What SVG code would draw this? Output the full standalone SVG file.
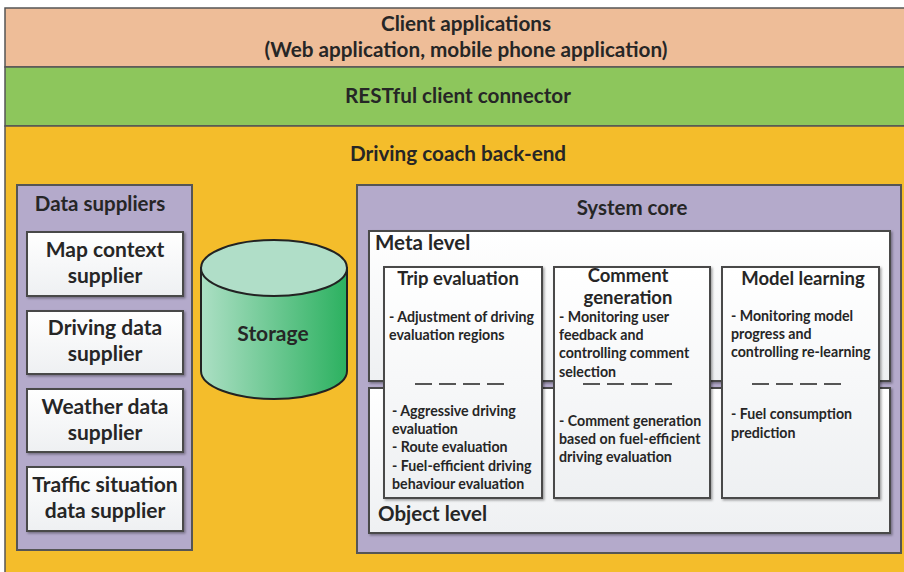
<svg xmlns="http://www.w3.org/2000/svg" width="904" height="572" viewBox="0 0 904 572">
<defs>
<linearGradient id="boxg" x1="0" y1="0" x2="0" y2="1">
<stop offset="0" stop-color="#ffffff"/>
<stop offset="1" stop-color="#eef0f2"/>
</linearGradient>
<linearGradient id="cylg" x1="0" y1="0" x2="1" y2="0">
<stop offset="0" stop-color="#acdfc4"/>
<stop offset="1" stop-color="#2cb160"/>
</linearGradient>
<filter id="sh" x="-5%" y="-5%" width="115%" height="115%">
<feDropShadow dx="1.5" dy="1.5" stdDeviation="0.8" flood-color="#000" flood-opacity="0.35"/>
</filter>
<style>
text{font-family:Lato,"Open Sans","Liberation Sans",sans-serif;font-weight:bold;fill:#262626}
.band{stroke:#555;stroke-width:1.5}
.purple{fill:#b4aacb;stroke:#555;stroke-width:2}
.box{fill:url(#boxg);stroke:#4a4a4a;stroke-width:2;filter:url(#sh)}
.top{font-size:20.7px;text-anchor:middle}
.t19{font-size:21px;text-anchor:middle}
.t18{font-size:20.5px}
.t16{font-size:18.5px;text-anchor:middle}
.b{font-size:14.2px}
.dash{stroke:#555;stroke-width:2;stroke-dasharray:17 7;fill:none}
</style>
</defs>
<g id="client-applications">
<rect class="band" x="5" y="8" width="902" height="59" fill="#eebd98"/>
<text class="top" x="466" y="31">Client applications</text>
<text class="top" x="466" y="57">(Web application, mobile phone application)</text>
</g>
<g id="restful-connector">
<rect class="band" x="5" y="67" width="902" height="59" fill="#8dc65c"/>
<text class="top" x="458" y="103">RESTful client connector</text>
</g>
<g id="backend">
<rect class="band" x="5" y="126" width="902" height="450" fill="#f4bd2b"/>
<text class="top" x="458" y="161">Driving coach back-end</text>
</g>
<g id="data-suppliers">
<rect class="purple" x="17" y="185" width="175" height="365"/>
<text class="t18" x="100" y="211" text-anchor="middle">Data suppliers</text>
</g>
<g id="map-context-supplier">
<rect class="box" x="27" y="232" width="156" height="64"/>
<text class="t19" x="105" y="257">Map context</text>
<text class="t19" x="105" y="283">supplier</text>
</g>
<g id="driving-data-supplier">
<rect class="box" x="27" y="311" width="156" height="63"/>
<text class="t19" x="105" y="335">Driving data</text>
<text class="t19" x="105" y="361">supplier</text>
</g>
<g id="weather-data-supplier">
<rect class="box" x="27" y="389" width="156" height="63"/>
<text class="t19" x="105" y="414">Weather data</text>
<text class="t19" x="105" y="440">supplier</text>
</g>
<g id="traffic-data-supplier">
<rect class="box" x="27" y="467" width="156" height="64"/>
<text class="t19" x="105" y="492">Traffic situation</text>
<text class="t19" x="105" y="518">data supplier</text>
</g>
<g id="storage">
<path d="M201,268 L201,371 A73,28 0 0 0 347,371 L347,268 Z" fill="url(#cylg)" stroke="#222" stroke-width="2"/>
<ellipse cx="274" cy="268" rx="73" ry="28" fill="#b0dec8" stroke="#222" stroke-width="2"/>
<text class="t19" x="273" y="341">Storage</text>
</g>
<g id="system-core">
<rect class="purple" x="357" y="185" width="544" height="368"/>
<text class="t18" x="632" y="215" text-anchor="middle">System core</text>
</g>
<g id="meta-level">
<rect class="box" x="369" y="231" width="521" height="150"/>
<text class="t18" x="375" y="250">Meta level</text>
</g>
<g id="object-level">
<rect class="box" x="369" y="388" width="521" height="145"/>
<text class="t18" x="378" y="521">Object level</text>
</g>
<g id="trip-evaluation">
<rect class="box" x="384" y="267" width="158" height="231"/>
<text class="t16" x="458" y="285">Trip evaluation</text>
<text class="b" x="389" y="322">- Adjustment of driving</text>
<text class="b" x="389" y="340">evaluation regions</text>
<line class="dash" x1="415" y1="384" x2="505" y2="384"/>
<text class="b" x="392" y="416">- Aggressive driving</text>
<text class="b" x="392" y="434">evaluation</text>
<text class="b" x="392" y="452">- Route evaluation</text>
<text class="b" x="392" y="471">- Fuel-efficient driving</text>
<text class="b" x="392" y="489">behaviour evaluation</text>
</g>
<g id="comment-generation">
<rect class="box" x="554" y="267" width="156" height="231"/>
<text class="t16" x="628" y="282">Comment</text>
<text class="t16" x="628" y="304">generation</text>
<text class="b" x="559" y="322">- Monitoring user</text>
<text class="b" x="559" y="340">feedback and</text>
<text class="b" x="559" y="358">controlling comment</text>
<text class="b" x="559" y="377">selection</text>
<line class="dash" x1="583" y1="384" x2="673" y2="384"/>
<text class="b" x="559" y="426">- Comment generation</text>
<text class="b" x="559" y="444">based on fuel-efficient</text>
<text class="b" x="559" y="462">driving evaluation</text>
</g>
<g id="model-learning">
<rect class="box" x="722" y="267" width="157" height="231"/>
<text class="t16" x="803" y="285">Model learning</text>
<text class="b" x="731" y="321">- Monitoring model</text>
<text class="b" x="731" y="339">progress and</text>
<text class="b" x="731" y="357">controlling re-learning</text>
<line class="dash" x1="752" y1="384" x2="842" y2="384"/>
<text class="b" x="731" y="419">- Fuel consumption</text>
<text class="b" x="731" y="438">prediction</text>
</g>
<g id="connectors"/>
</svg>
